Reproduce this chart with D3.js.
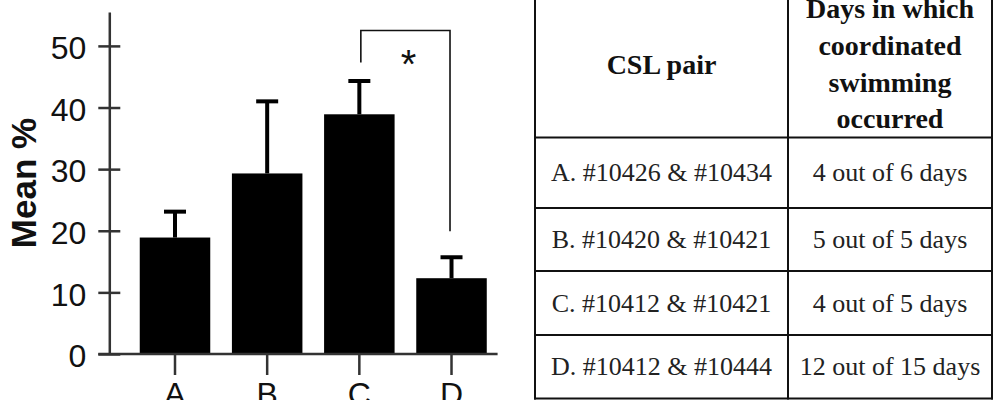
<!DOCTYPE html>
<html>
<head>
<meta charset="utf-8">
<script src="https://cdn.jsdelivr.net/npm/d3@7"></script>
<style>
  html, body { margin: 0; padding: 0; background: #fff; }
  svg { display: block; }
</style>
</head>
<body>
<svg id="chart" width="993" height="400"></svg>
<script>
// ---- data ----
const categories = ["A", "B", "C", "D"];
const means = [18.9, 29.3, 38.9, 12.3];
const errUpper = [23.1, 41.0, 44.3, 15.7];
const yTicks = [0, 10, 20, 30, 40, 50];
const yLabel = "Mean %";
const sigMark = "*";
const sigPair = ["C", "D"];

const tableHeader1 = ["CSL pair"];
const tableHeader2 = ["Days in which", "coordinated", "swimming", "occurred"];
const pairs = ["A. #10426 & #10434", "B. #10420 & #10421", "C. #10412 & #10421", "D. #10412 & #10444"];
const daysText = ["4 out of 6 days", "5 out of 5 days", "4 out of 5 days", "12 out of 15 days"];

// ---- chart ----
const svg = d3.select("#chart");
const sans = "'Liberation Sans', Arial, Helvetica, sans-serif";
const serif = "'Liberation Serif', 'Times New Roman', serif";

const axisX = 109.3;
const y = d3.scaleLinear().domain([0, 55.5]).range([354, 12]);
const step = 92.17;
const x = d3.scaleBand().domain(categories)
  .range([175 - step / 2, 175 + step * 3.5])
  .paddingInner(0.235).paddingOuter(0.1175);

const g = svg.append("g");

// bars
g.selectAll("rect.bar").data(categories).join("rect")
  .attr("class", "bar")
  .attr("x", d => x(d))
  .attr("width", x.bandwidth())
  .attr("y", (d, i) => y(means[i]))
  .attr("height", (d, i) => y(0) - y(means[i]))
  .attr("fill", "#000");

// error bars
const cx = d => x(d) + x.bandwidth() / 2;
g.selectAll("line.err").data(categories).join("line")
  .attr("class", "err")
  .attr("x1", cx).attr("x2", cx)
  .attr("y1", (d, i) => y(means[i]))
  .attr("y2", (d, i) => y(errUpper[i]))
  .attr("stroke", "#000").attr("stroke-width", 4);
g.selectAll("line.cap").data(categories).join("line")
  .attr("class", "cap")
  .attr("x1", d => cx(d) - 11).attr("x2", d => cx(d) + 11)
  .attr("y1", (d, i) => y(errUpper[i]))
  .attr("y2", (d, i) => y(errUpper[i]))
  .attr("stroke", "#000").attr("stroke-width", 4);

// y axis
const yAxis = g.append("g").attr("transform", `translate(${axisX},0)`)
  .call(d3.axisLeft(y).tickValues(yTicks).tickSizeOuter(0).tickSizeInner(11).tickPadding(12));
yAxis.select(".domain").attr("stroke", "#333").attr("stroke-width", 2.5);
yAxis.selectAll(".tick line").attr("x1", -11).attr("x2", 11).attr("stroke", "#333").attr("stroke-width", 2.5);
yAxis.selectAll(".tick text").attr("font-family", sans).attr("font-size", 32).attr("fill", "#111").attr("dy", "0.4em");

// x axis
const xAxis = g.append("g").attr("transform", `translate(0,${y(0)})`)
  .call(d3.axisBottom(x).tickSizeOuter(0).tickSizeInner(21).tickPadding(6));
xAxis.select(".domain").attr("d", `M${axisX - 11},0H${x.range()[1]}`).attr("stroke", "#333").attr("stroke-width", 2.5);
xAxis.selectAll(".tick line").attr("stroke", "#333").attr("stroke-width", 2.5);
xAxis.selectAll(".tick text").attr("font-family", sans).attr("font-size", 32).attr("fill", "#111").attr("dy", "0.75em");

// y label
g.append("text")
  .attr("transform", `translate(36,183) rotate(-90)`)
  .attr("text-anchor", "middle")
  .attr("font-family", sans).attr("font-weight", "bold").attr("font-size", 35)
  .attr("fill", "#111")
  .text(yLabel);

// significance bracket
const bTop = 52.5, bLeft = 47.3, bRight = 19.9;
const xl = cx(sigPair[0]) + 1.5, xr = cx(sigPair[1]) - 1.5;
g.append("path")
  .attr("d", `M${xl},${y(bLeft)}V${y(bTop)}H${xr}V${y(bRight)}`)
  .attr("fill", "none").attr("stroke", "#111").attr("stroke-width", 1.6);
g.append("text")
  .attr("x", (xl + xr) / 2 + 3).attr("y", 78)
  .attr("text-anchor", "middle")
  .attr("font-family", sans).attr("font-size", 40).attr("fill", "#111")
  .text(sigMark);

// ---- table ----
const tLeft = 535, tMid = 788, tRight = 992;
const rowLines = [137.5, 208, 271, 335, 398.5];
const t = svg.append("g");
const lineColor = "#111";

[tLeft, tMid, tRight].forEach(xx => {
  t.append("line").attr("x1", xx).attr("x2", xx).attr("y1", 0).attr("y2", rowLines[rowLines.length - 1] + 1)
    .attr("stroke", lineColor).attr("stroke-width", 2);
});
rowLines.forEach(yy => {
  t.append("line").attr("x1", tLeft - 1).attr("x2", tRight + 1).attr("y1", yy).attr("y2", yy)
    .attr("stroke", lineColor).attr("stroke-width", 2);
});

const c1 = (tLeft + tMid) / 2, c2 = (tMid + tRight) / 2;
t.append("text").attr("x", c1).attr("y", 74)
  .attr("text-anchor", "middle").attr("font-family", serif).attr("font-weight", "bold")
  .attr("font-size", 28).attr("fill", "#111").text(tableHeader1[0]);
t.selectAll("text.h2").data(tableHeader2).join("text")
  .attr("class", "h2")
  .attr("x", c2).attr("y", (d, i) => 18.3 + i * 36.7)
  .attr("text-anchor", "middle").attr("font-family", serif).attr("font-weight", "bold")
  .attr("font-size", 28).attr("fill", "#111").text(d => d);

const rowCenter = i => (rowLines[i] + rowLines[i + 1]) / 2;
t.selectAll("text.pair").data(pairs).join("text")
  .attr("class", "pair")
  .attr("x", c1).attr("y", (d, i) => rowCenter(i) + 8.5)
  .attr("text-anchor", "middle").attr("font-family", serif)
  .attr("font-size", 26).attr("fill", "#222").text(d => d);
t.selectAll("text.days").data(daysText).join("text")
  .attr("class", "days")
  .attr("x", c2).attr("y", (d, i) => rowCenter(i) + 8.5)
  .attr("text-anchor", "middle").attr("font-family", serif)
  .attr("font-size", 26).attr("fill", "#222").text(d => d);
</script>
</body>
</html>
